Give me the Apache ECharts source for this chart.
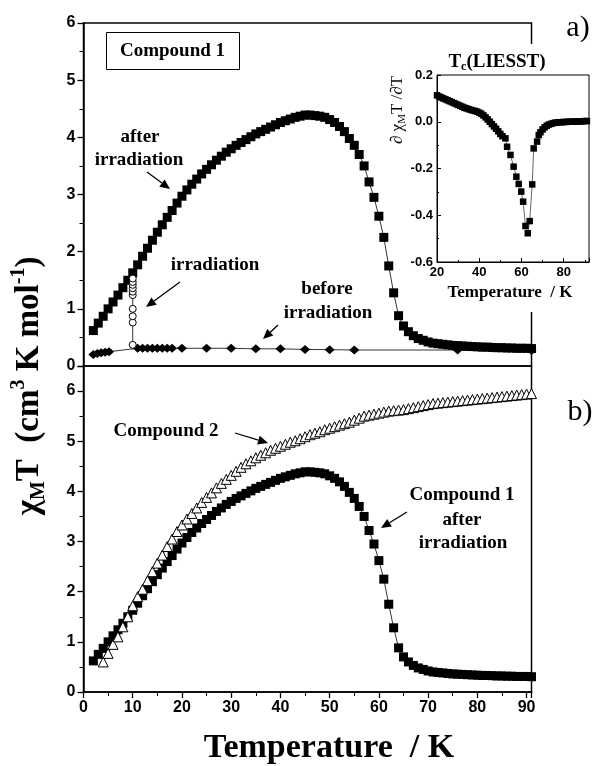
<!DOCTYPE html>
<html><head><meta charset="utf-8">
<script src="https://cdn.jsdelivr.net/npm/echarts@6/dist/echarts.min.js"></script>
<style>html,body{margin:0;padding:0;background:#fff}#c{width:592px;height:766px}</style>
</head><body><div id="c"></div>
<script>
// ---------- DATA ----------
const tempAfter = [2,3,4,5,6,7,8,9,10,11,12,13,14,15,16,17,18,19,20,21,22,23,24,25,26,27,28,29,30,31,32,33,34,35,36,37,38,39,40,41,42,43,44,45,46,47,48,49,50,51,52,53,54,55,56,57,58,59,60,61,62,63,64,65,66,67,68,69,70,71,72,73,74,75,76,77,78,79,80,81,82,83,84,85,86,87,88,89,90,91];
const chiAfter = [0.62,0.75,0.87,1.00,1.12,1.24,1.37,1.50,1.63,1.77,1.92,2.06,2.20,2.34,2.47,2.60,2.72,2.85,2.97,3.08,3.18,3.27,3.36,3.44,3.52,3.60,3.67,3.74,3.80,3.86,3.91,3.96,4.01,4.06,4.10,4.14,4.18,4.22,4.26,4.29,4.32,4.35,4.37,4.39,4.39,4.38,4.37,4.35,4.31,4.26,4.19,4.10,3.98,3.86,3.70,3.50,3.22,2.95,2.62,2.25,1.75,1.28,0.88,0.70,0.60,0.53,0.48,0.45,0.42,0.40,0.39,0.38,0.37,0.36,0.355,0.35,0.345,0.34,0.335,0.33,0.33,0.325,0.32,0.32,0.315,0.315,0.31,0.31,0.31,0.305];

const tempC2 = [4,5,6,7,8,9,10,11,12,13,14,15,16,17,18,19,20,21,22,23,24,25,26,27,28,29,30,31,32,33,34,35,36,37,38,39,40,41,42,43,44,45,46,47,48,49,50,51,52,53,54,55,56,57,58,59,60,61,62,63,64,65,66,67,68,69,70,71,72,73,74,75,76,77,78,79,80,81,82,83,84,85,86,87,88,89,90,91];
const chiC2 = [0.60,0.77,0.95,1.10,1.30,1.50,1.72,1.90,2.05,2.22,2.40,2.57,2.73,2.90,3.05,3.20,3.33,3.45,3.56,3.67,3.78,3.88,3.97,4.07,4.16,4.24,4.32,4.40,4.48,4.55,4.61,4.67,4.72,4.77,4.82,4.86,4.90,4.94,4.98,5.01,5.05,5.09,5.13,5.16,5.19,5.23,5.26,5.29,5.32,5.35,5.38,5.42,5.46,5.50,5.52,5.54,5.56,5.58,5.60,5.61,5.62,5.63,5.65,5.67,5.69,5.71,5.73,5.75,5.76,5.77,5.78,5.79,5.80,5.81,5.82,5.83,5.84,5.85,5.86,5.87,5.88,5.89,5.90,5.91,5.92,5.93,5.94,5.95];

const tempBefore = [2,2.8,3.6,4.4,5.2,11,12,13,14,15,16,17,18,20,25,30,35,40,45,50,55,76,91];
const chiBefore = [0.20,0.22,0.23,0.24,0.25,0.31,0.31,0.31,0.31,0.31,0.31,0.31,0.31,0.31,0.31,0.31,0.30,0.30,0.29,0.285,0.28,0.28,0.27];

const tempIrr = [10,10,10,10,10,10,10,10,10,10];
const chiIrr = [0.37,0.76,0.87,1.00,1.24,1.30,1.36,1.42,1.47,1.53];

const tempInset = [20,21,22,23,24,25,26,27,28,29,30,31,32,33,34,35,36,37,38,39,40,41,42,43,44,45,46,47,48,49,50,51,52.4,53.2,54.8,56.3,57.6,58.7,59.9,60.8,61.9,63,63.9,65.1,65.8,67.4,68.2,69,70,71,72,73,74,75,76,77,78,79,80,81,82,83,84,85,86,87,88,89,90,91];
const dChiInset = [0.113,0.108,0.104,0.100,0.096,0.092,0.088,0.084,0.080,0.076,0.072,0.068,0.064,0.060,0.057,0.054,0.051,0.048,0.046,0.043,0.039,0.034,0.027,0.019,0.010,0.000,-0.010,-0.020,-0.030,-0.041,-0.052,-0.062,-0.071,-0.107,-0.142,-0.192,-0.235,-0.266,-0.299,-0.342,-0.446,-0.477,-0.425,-0.268,-0.114,-0.085,-0.057,-0.045,-0.033,-0.024,-0.017,-0.012,-0.009,-0.006,-0.004,-0.003,-0.002,-0.002,-0.001,-0.001,0.000,0.000,0.000,0.001,0.001,0.001,0.002,0.002,0.003,0.003];

const mainXRange = [0, 91];
const panelAYRange = [0, 6];
const panelBYRange = [0, 6.5];
const insetXRange = [20, 92];
const insetYRange = [-0.6, 0.2];

// ---------- STYLE ----------
const serif = '"Liberation Serif","Times New Roman",serif';
const sans = '"Liberation Sans",Arial,sans-serif';
const zip = (a, b) => a.map((x, i) => [x, b[i]]);

const chart = echarts.init(document.getElementById('c'), null, {renderer: 'canvas'});

function mainAxisBase() {
  return {
    type: 'value',
    axisLine: {show: true, onZero: false, lineStyle: {color: '#000', width: 1.5}},
    axisTick: {show: true, inside: false, length: 6, lineStyle: {color: '#000', width: 1.3}},
    minorTick: {show: true, splitNumber: 2, length: 4, lineStyle: {color: '#000', width: 1}},
    splitLine: {show: false},
    axisLabel: {color: '#000', fontFamily: sans, fontWeight: 'bold', fontSize: 16, margin: 8}
  };
}
function insetAxisBase() {
  return {
    type: 'value', z: 115,
    axisLine: {show: true, onZero: false, lineStyle: {color: '#000', width: 1}},
    axisTick: {show: true, inside: true, length: 4, lineStyle: {color: '#000', width: 1}},
    minorTick: {show: true, splitNumber: 2, length: 2, lineStyle: {color: '#000', width: 1}},
    splitLine: {show: false},
    axisLabel: {color: '#000', fontFamily: sans, fontWeight: 'bold', fontSize: 13, margin: 4}
  };
}

function arrow(x1, y1, x2, y2) {
  const ang = Math.atan2(y2 - y1, x2 - x1);
  const L = 10, W = 4.5;
  const bx = x2 - L * Math.cos(ang), by = y2 - L * Math.sin(ang);
  const px = -Math.sin(ang) * W, py = Math.cos(ang) * W;
  return [
    {type: 'line', z: 120, shape: {x1: x1, y1: y1, x2: bx, y2: by}, style: {stroke: '#000', lineWidth: 1.3}},
    {type: 'polygon', z: 120, shape: {points: [[x2, y2], [bx + px, by + py], [bx - px, by - py]]}, style: {fill: '#000'}}
  ];
}
function label(text, x, y, size, extra) {
  return Object.assign({type: 'text', z: 120, x: x, y: y, style: {text: text, fill: '#000', font: 'bold ' + size + 'px ' + serif, textAlign: 'center', textVerticalAlign: 'middle'}}, extra || {});
}

const graphics = [
  {type: 'rect', z: 100, shape: {x: 425, y: 44, width: 167, height: 268}, style: {fill: '#fff'}},
  {type: 'rect', z: 120, shape: {x: 106.5, y: 32.5, width: 133, height: 37}, style: {fill: '#fff', stroke: '#000', lineWidth: 1}},
  label('Compound 1', 172.5, 51, 19),
  label('after', 140, 137, 19),
  label('irradiation', 139, 160, 19),
  ...arrow(147, 172, 170, 189),
  label('irradiation', 215, 265, 19),
  ...arrow(180, 282, 146, 307),
  label('before', 327, 289, 19),
  label('irradiation', 328, 313, 19),
  ...arrow(278, 325, 263, 339),
  label('Compound 2', 166, 431, 19),
  ...arrow(235, 433, 268, 443),
  label('Compound 1', 462, 495, 19),
  label('after', 462, 520, 19),
  label('irradiation', 463, 543, 19),
  ...arrow(407, 512, 381, 528),
  {type: 'text', z: 120, x: 578, y: 28, style: {text: 'a)', fill: '#000', font: '30px ' + serif, textAlign: 'center', textVerticalAlign: 'middle'}},
  {type: 'text', z: 120, x: 580, y: 412, style: {text: 'b)', fill: '#000', font: '30px ' + serif, textAlign: 'center', textVerticalAlign: 'middle'}},
  {type: 'text', z: 120, x: 497, y: 62, style: {
    text: '{b|T}{s|c}{b|(LIESST)}', textAlign: 'center', textVerticalAlign: 'middle',
    rich: {b: {fontFamily: serif, fontWeight: 'bold', fontSize: 19, lineHeight: 22, verticalAlign: 'middle', fill: '#000'},
           s: {fontFamily: serif, fontWeight: 'bold', fontSize: 12, lineHeight: 12, verticalAlign: 'bottom', fill: '#000'}}}},
  label('Temperature  / K', 510, 293, 17),
  {type: 'text', z: 120, x: 398, y: 110, rotation: Math.PI / 2, style: {
    text: '{n|∂ χ}{s|M}{n|T /∂T}', textAlign: 'center', textVerticalAlign: 'middle',
    rich: {n: {fontFamily: serif, fontSize: 17, lineHeight: 20, verticalAlign: 'middle', fill: '#000'},
           s: {fontFamily: serif, fontSize: 11, lineHeight: 10, verticalAlign: 'bottom', fill: '#000'}}}},
  {type: 'text', z: 120, x: 29, y: 386, rotation: Math.PI / 2, style: {
    text: '{b|χ}{s|M}{b|T  (cm}{p|3}{b| K mol}{p|-1}{b|)}', textAlign: 'center', textVerticalAlign: 'middle',
    rich: {b: {fontFamily: serif, fontWeight: 'bold', fontSize: 33, lineHeight: 40, verticalAlign: 'middle', fill: '#000'},
           s: {fontFamily: serif, fontWeight: 'bold', fontSize: 20, lineHeight: 20, verticalAlign: 'bottom', fill: '#000'},
           p: {fontFamily: serif, fontWeight: 'bold', fontSize: 20, lineHeight: 20, verticalAlign: 'top', fill: '#000'}}}},
  label('Temperature  / K', 329, 748, 34)
];

const option = {
  animation: false,
  backgroundColor: '#fff',
  grid: [
    {left: 83.5, top: 23, width: 448, height: 343, show: true, borderColor: '#000', borderWidth: 1.5, backgroundColor: 'transparent'},
    {left: 83.5, top: 366, width: 448, height: 326, show: true, borderColor: '#000', borderWidth: 1.5, backgroundColor: 'transparent'},
    {left: 437, top: 75, width: 152.6, height: 187, show: true, borderColor: '#000', borderWidth: 1, backgroundColor: '#fff', z: 110}
  ],
  xAxis: [
    Object.assign(mainAxisBase(), {gridIndex: 0, min: mainXRange[0], max: mainXRange[1], interval: 10,
      axisLine: {show: false}, axisTick: {show: false}, minorTick: {show: false}, axisLabel: {show: false}}),
    Object.assign(mainAxisBase(), {gridIndex: 1, min: mainXRange[0], max: mainXRange[1], interval: 10}),
    Object.assign(insetAxisBase(), {gridIndex: 2, min: insetXRange[0], max: insetXRange[1], interval: 20})
  ],
  yAxis: [
    Object.assign(mainAxisBase(), {gridIndex: 0, min: panelAYRange[0], max: panelAYRange[1], interval: 1}),
    Object.assign(mainAxisBase(), {gridIndex: 1, min: panelBYRange[0], max: panelBYRange[1], interval: 1}),
    Object.assign(insetAxisBase(), {gridIndex: 2, min: insetYRange[0], max: insetYRange[1], interval: 0.2})
  ],
  series: [
    {type: 'line', xAxisIndex: 0, yAxisIndex: 0, data: zip(tempBefore, chiBefore), symbol: 'diamond', symbolSize: [10, 9],
      itemStyle: {color: '#000'}, lineStyle: {color: '#000', width: 0.8}, z: 3},
    {type: 'line', xAxisIndex: 0, yAxisIndex: 0, data: zip(tempIrr, chiIrr), symbol: 'circle', symbolSize: 7,
      itemStyle: {color: '#fff', borderColor: '#000', borderWidth: 1}, lineStyle: {color: '#000', width: 0.8}, z: 4},
    {type: 'line', xAxisIndex: 0, yAxisIndex: 0, data: zip(tempAfter, chiAfter), symbol: 'rect', symbolSize: 9,
      itemStyle: {color: '#000'}, lineStyle: {color: '#000', width: 0.8}, z: 3},
    {type: 'line', xAxisIndex: 1, yAxisIndex: 1, data: zip(tempAfter, chiAfter), symbol: 'rect', symbolSize: 9,
      itemStyle: {color: '#000'}, lineStyle: {color: '#000', width: 0.8}, z: 3},
    {type: 'line', xAxisIndex: 1, yAxisIndex: 1, data: zip(tempC2, chiC2), symbol: 'triangle', symbolSize: 10,
      itemStyle: {color: '#fff', borderColor: '#000', borderWidth: 1}, lineStyle: {color: '#000', width: 0.8}, z: 4},
    {type: 'line', xAxisIndex: 2, yAxisIndex: 2, data: zip(tempInset, dChiInset), symbol: 'rect', symbolSize: 6.5,
      itemStyle: {color: '#000'}, lineStyle: {color: '#000', width: 0.6}, z: 115}
  ],
  graphic: {elements: graphics}
};

option.xAxis[1].axisLabel.formatter = v => (Math.abs(v % 10) < 1e-9 ? String(v) : '');
option.yAxis[0].axisLabel.formatter = v => (Math.abs(v % 1) < 1e-9 ? String(v) : '');
option.yAxis[1].axisLabel.formatter = v => (Math.abs(v % 1) < 1e-9 ? String(v) : '');
option.xAxis[2].axisLabel.formatter = v => (Math.abs(v % 20) < 1e-9 ? String(v) : '');
option.yAxis[2].axisLabel.formatter = v => (Math.abs(v) < 1e-9 ? '0.0' : v.toFixed(1));

chart.setOption(option);
</script></body></html>
